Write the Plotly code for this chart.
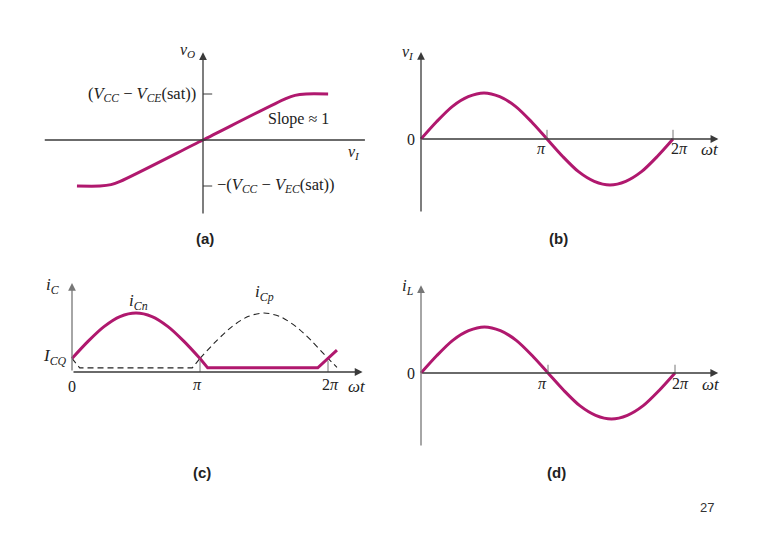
import plotly.graph_objects as go

# ---- data ----
# (a) transfer characteristic, vI vs vO (normalised to saturation level)
vi_a = [-1.37, -1.12, -1.0, -0.9, 0.0, 0.9, 1.0, 1.12, 1.36]
vo_a = [-1.0, -1.0, -0.97, -0.9, 0.0, 0.9, 0.97, 1.0, 1.0]

# (b)/(d) input voltage and load current over one period (x in units of pi)
wt = [0, 0.125, 0.25, 0.375, 0.5, 0.625, 0.75, 0.875, 1.0,
      1.125, 1.25, 1.375, 1.5, 1.625, 1.75, 1.875, 2.0]
vi_b = [0, 0.38, 0.71, 0.92, 1.0, 0.92, 0.71, 0.38, 0,
        -0.38, -0.71, -0.92, -1.0, -0.92, -0.71, -0.38, 0]
il_d = [0, 0.38, 0.71, 0.92, 1.0, 0.92, 0.71, 0.38, 0,
        -0.38, -0.71, -0.92, -1.0, -0.92, -0.71, -0.38, 0]

# (c) collector currents
icn_arc_x = [0, 0.125, 0.25, 0.375, 0.5, 0.625, 0.75, 0.875, 1.0]
icn_arc_y = [0.23, 0.52, 0.77, 0.94, 1.0, 0.94, 0.77, 0.52, 0.23]
icn_tail_x = [1.0, 1.06, 1.92, 2.07]
icn_tail_y = [0.23, 0.07, 0.07, 0.37]
icp_head_x = [0, 0.06, 0.94, 1.0]
icp_head_y = [0.23, 0.07, 0.07, 0.23]
icp_arc_x = [1.0, 1.125, 1.25, 1.375, 1.5, 1.625, 1.75, 1.875, 2.0, 2.07]
icp_arc_y = [0.23, 0.52, 0.77, 0.94, 1.0, 0.94, 0.77, 0.52, 0.23, 0.08]

# page is drawn inside the default 8px body margin
PAD = 8
W, H = 780 - 2 * PAD, 540 - 2 * PAD
MAG = '#b0186e'
AX = '#3a3a3a'
SERIF = 'Liberation Serif'

fig = go.Figure()


def place(n, box, origin, unit):
    # box in window pixels (left, top, right, bottom), origin pixel of data (0,0), px per unit
    l, t, r, b = [v - PAD for v in box]
    ox, oy = origin[0] - PAD, origin[1] - PAD
    ux, uy = unit
    s = '' if n == 1 else str(n)
    fig.update_layout({
        f'xaxis{s}': dict(domain=[l / W, r / W], range=[(l - ox) / ux, (r - ox) / ux],
                          visible=False, anchor=f'y{s}', fixedrange=True),
        f'yaxis{s}': dict(domain=[1 - b / H, 1 - t / H], range=[(oy - b) / uy, (oy - t) / uy],
                          visible=False, anchor=f'x{s}', fixedrange=True),
    })
    return f'x{s}', f'y{s}'


def arrow(xr, yr, x0, y0, x1, y1, color=AX):
    fig.add_annotation(x=x1, y=y1, ax=x0, ay=y0, xref=xr, yref=yr, axref=xr, ayref=yr,
                       showarrow=True, arrowhead=2, arrowsize=1.2, arrowwidth=1.3,
                       arrowcolor=color, text='', standoff=0, startstandoff=0)


def seg(xr, yr, x0, y0, x1, y1, color=AX, width=1.3):
    fig.add_shape(type='line', xref=xr, yref=yr, x0=x0, y0=y0, x1=x1, y1=y1,
                  line=dict(color=color, width=width))


def label(xr, yr, x, y, text, xanchor='center', yanchor='middle', size=16):
    fig.add_annotation(x=x, y=y, xref=xr, yref=yr, text=text, showarrow=False,
                       xanchor=xanchor, yanchor=yanchor,
                       font=dict(family=SERIF, size=size, color='#222'))


def curve(xr, yr, x, y, color=MAG, width=3, dash=None, shape='spline'):
    fig.add_trace(go.Scatter(x=x, y=y, xaxis=xr, yaxis=yr, mode='lines', showlegend=False,
                             hoverinfo='skip',
                             line=dict(color=color, width=width, dash=dash, shape=shape,
                                       smoothing=0.8 if shape == 'spline' else None)))


# ---- (a) ----
xa, ya = place(1, (40, 40, 372, 222), (203, 140), (92, 46))
seg(xa, ya, -1.72, 0, 1.76, 0)
arrow(xa, ya, 0, -1.63, 0, 1.91)
seg(xa, ya, 0, 1.0, 0.1, 1.0, width=1)
seg(xa, ya, 0, -1.0, 0.1, -1.0, width=1)
curve(xa, ya, vi_a, vo_a)
label(xa, ya, -0.17, 1.94, '<i>v<sub>O</sub></i>')
label(xa, ya, 1.64, -0.28, '<i>v<sub>I</sub></i>')
label(xa, ya, -0.05, 1.0, '(<i>V<sub>CC</sub></i> − <i>V<sub>CE</sub></i>(sat))',
      xanchor='right', size=16.5)
label(xa, ya, 0.13, -0.98, '−(<i>V<sub>CC</sub></i> − <i>V<sub>EC</sub></i>(sat))',
      xanchor='left', size=16.5)
label(xa, ya, 0.69, 0.46, 'Slope ≈ 1', xanchor='left', size=16)

# ---- (b) ----
xb, yb = place(2, (395, 40, 735, 225), (421, 139), (126, 46))
arrow(xb, yb, 0, -1.61, 0, 1.89)
arrow(xb, yb, 0, 0, 2.36, 0)
for k in (1, 2):
    seg(xb, yb, k, 0, k, 0.2, color='#777', width=1)
curve(xb, yb, wt, vi_b)
label(xb, yb, -0.1, 1.87, '<i>v<sub>I</sub></i>')
label(xb, yb, -0.08, 0, '0')
label(xb, yb, 0.96, -0.2, '<i>π</i>')
label(xb, yb, 2.05, -0.2, '2<i>π</i>')
label(xb, yb, 2.29, -0.23, '<i>ωt</i>', size=17)

# ---- (c) ----
xc, yc = place(3, (30, 275, 372, 400), (72, 372), (128, 59))
arrow(xc, yc, 0, 0, 0, 1.51, color='#777')
arrow(xc, yc, 0, 0, 2.27, 0)
for k in (1, 2):
    seg(xc, yc, k, 0, k, 0.19, color='#777', width=1)
curve(xc, yc, icp_head_x, icp_head_y, color='#222', width=1.1, dash='6px,4px', shape='linear')
curve(xc, yc, icp_arc_x, icp_arc_y, color='#222', width=1.1, dash='6px,4px')
curve(xc, yc, icn_arc_x, icn_arc_y)
curve(xc, yc, icn_tail_x, icn_tail_y, shape='linear')
label(xc, yc, -0.15, 1.45, '<i>i<sub>C</sub></i>', size=17)
label(xc, yc, 0.52, 1.19, '<i>i<sub>Cn</sub></i>', size=17)
label(xc, yc, 1.5, 1.34, '<i>i<sub>Cp</sub></i>', size=17)
label(xc, yc, -0.13, 0.25, '<i>I<sub>CQ</sub></i>', size=17)
label(xc, yc, 0, -0.24, '0')
label(xc, yc, 0.98, -0.21, '<i>π</i>')
label(xc, yc, 2.02, -0.21, '2<i>π</i>')
label(xc, yc, 2.23, -0.25, '<i>ωt</i>', size=17)

# ---- (d) ----
xd, yd = place(4, (395, 275, 735, 455), (421, 373), (127, 46))
arrow(xd, yd, 0, -1.61, 0, 1.91, color='#777')
arrow(xd, yd, 0, 0, 2.34, 0)
for k in (1, 2):
    seg(xd, yd, k, 0, k, 0.18, color='#777', width=1)
curve(xd, yd, wt, il_d)
label(xd, yd, -0.1, 1.87, '<i>i<sub>L</sub></i>', size=17)
label(xd, yd, -0.08, 0, '0')
label(xd, yd, 0.96, -0.22, '<i>π</i>')
label(xd, yd, 2.04, -0.22, '2<i>π</i>')
label(xd, yd, 2.28, -0.26, '<i>ωt</i>', size=17)

# ---- captions ----
captions = [('(a)', 205, 238), ('(b)', 558, 238), ('(c)', 202, 472), ('(d)', 556, 472)]
for txt, px, py in captions:
    fig.add_annotation(x=(px - PAD) / W, y=1 - (py - PAD) / H, xref='paper', yref='paper',
                       text=f'<b>{txt}</b>', showarrow=False,
                       xanchor='center', yanchor='middle',
                       font=dict(family='Liberation Sans', size=15, color='#222'))
fig.add_annotation(x=(707 - PAD) / W, y=1 - (507 - PAD) / H, xref='paper', yref='paper',
                   text='27', showarrow=False, xanchor='center', yanchor='middle',
                   font=dict(family='Liberation Sans', size=13, color='#333'))

fig.update_layout(width=W, height=H, margin=dict(l=0, r=0, t=0, b=0),
                  paper_bgcolor='white', plot_bgcolor='white', showlegend=False)

fig.write_html('out.html')
